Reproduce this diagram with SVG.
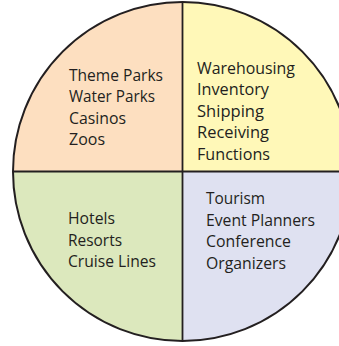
<svg xmlns="http://www.w3.org/2000/svg" width="339" height="346" viewBox="0 0 339 346">
<style>
.lbl{font-family:"Open Sans","Noto Sans","Liberation Sans",sans-serif;font-size:16.3px;fill:#231f20}
.q{stroke:none}
.edge{fill:none;stroke:#231f20;stroke-width:2}
.div{stroke:#231f20;stroke-width:1.8}
</style>
<rect width="339" height="346" fill="#ffffff"/>
<g id="entertainment">
<path class="q" fill="#fddfc0" d="M182.5,171.5 L13,171.5 A169.5,169.5 0 0 1 182.5,2 Z"/>
<text class="lbl"><tspan x="69" y="80.5" textLength="94" lengthAdjust="spacingAndGlyphs">Theme Parks</tspan><tspan x="69" y="102" textLength="86" lengthAdjust="spacingAndGlyphs">Water Parks</tspan><tspan x="69" y="123.5" textLength="57" lengthAdjust="spacingAndGlyphs">Casinos</tspan><tspan x="69" y="145" textLength="36" lengthAdjust="spacingAndGlyphs">Zoos</tspan></text>
</g>
<g id="logistics">
<path class="q" fill="#fff8b8" d="M182.5,171.5 L182.5,2 A169.5,169.5 0 0 1 352,171.5 Z"/>
<text class="lbl"><tspan x="197" y="73.5" textLength="98" lengthAdjust="spacingAndGlyphs">Warehousing</tspan><tspan x="197" y="95" textLength="72" lengthAdjust="spacingAndGlyphs">Inventory</tspan><tspan x="197" y="116.5" textLength="67" lengthAdjust="spacingAndGlyphs">Shipping</tspan><tspan x="197" y="138" textLength="72" lengthAdjust="spacingAndGlyphs">Receiving</tspan><tspan x="197" y="159.5" textLength="73" lengthAdjust="spacingAndGlyphs">Functions</tspan></text>
</g>
<g id="lodging">
<path class="q" fill="#dce8bd" d="M182.5,171.5 L182.5,341 A169.5,169.5 0 0 1 13,171.5 Z"/>
<text class="lbl"><tspan x="68" y="224" textLength="47" lengthAdjust="spacingAndGlyphs">Hotels</tspan><tspan x="68" y="245.5" textLength="54" lengthAdjust="spacingAndGlyphs">Resorts</tspan><tspan x="68" y="267" textLength="88" lengthAdjust="spacingAndGlyphs">Cruise Lines</tspan></text>
</g>
<g id="events">
<path class="q" fill="#dfe1f1" d="M182.5,171.5 L352,171.5 A169.5,169.5 0 0 1 182.5,341 Z"/>
<text class="lbl"><tspan x="206" y="204" textLength="59" lengthAdjust="spacingAndGlyphs">Tourism</tspan><tspan x="206" y="225.5" textLength="109" lengthAdjust="spacingAndGlyphs">Event Planners</tspan><tspan x="206" y="247" textLength="85" lengthAdjust="spacingAndGlyphs">Conference</tspan><tspan x="206" y="268.5" textLength="80" lengthAdjust="spacingAndGlyphs">Organizers</tspan></text>
</g>
<g id="connectors">
<circle class="edge" cx="182.5" cy="171.5" r="169.5"/>
<line class="div" x1="182.5" y1="2" x2="182.5" y2="341"/>
<line class="div" x1="13" y1="171.5" x2="352" y2="171.5"/>
</g>
</svg>
